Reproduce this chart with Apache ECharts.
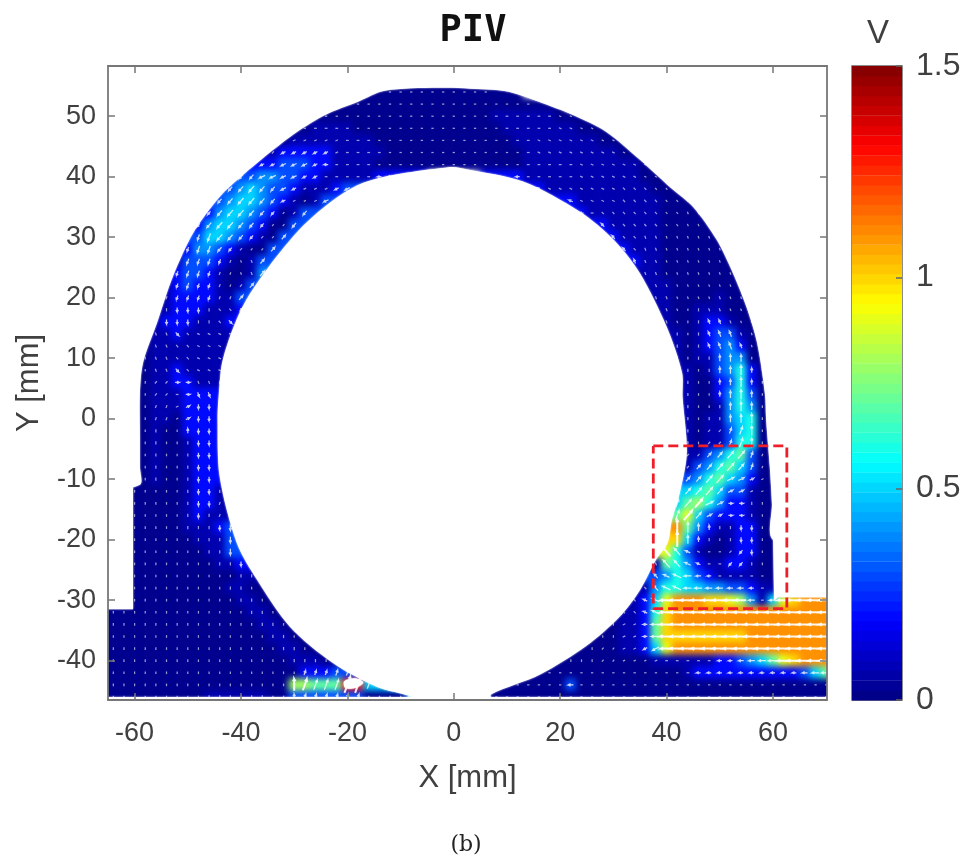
<!DOCTYPE html>
<html>
<head>
<meta charset="utf-8">
<style>
html,body{margin:0;padding:0;background:#fff}
#wrap{position:relative;width:968px;height:857px;overflow:hidden}
#plotClip{position:absolute;left:108px;top:66px;width:719px;height:634px;overflow:hidden}
#fieldLayer{position:absolute;left:-108px;top:-66px;width:968px;height:857px;filter:blur(3px)}
#top{position:absolute;left:0;top:0;width:968px;height:857px;filter:blur(0.45px)}
</style>
<script src="https://cdn.jsdelivr.net/npm/echarts@6/dist/echarts.min.js"></script>
</head>
<body>
<div id="wrap">
  <div id="plotClip"><div id="fieldLayer"></div></div>
  <div id="top"></div>
</div>
<script>
const xTicks = [-60,-40,-20,0,20,40,60];
const yTicks = [-40,-30,-20,-10,0,10,20,30,40,50];
const colorbarLevels = [0.012,0.035,0.059,0.082,0.105,0.129,0.152,0.176,0.199,0.223,0.246,0.270,0.293,0.316,0.340,0.363,0.387,0.410,0.434,0.457,0.480,0.504,0.527,0.551,0.574,0.598,0.621,0.645,0.668,0.691,0.715,0.738,0.762,0.785,0.809,0.832,0.855,0.879,0.902,0.926,0.949,0.973,0.996,1.020,1.043,1.066,1.090,1.113,1.137,1.160,1.184,1.207,1.230,1.254,1.277,1.301,1.324,1.348,1.371,1.395,1.418,1.441,1.465,1.488];
const jet = ['#000080','#0000ff','#0080ff','#00ffff','#80ff80','#ffff00','#ff8000','#ff0000','#800000'];
const dashedBoxX = [37.5,62.6,62.6,37.5,37.5];
const dashedBoxY = [-4.5,-4.5,-31.4,-31.4,-4.5];
// Digit scale of the speed table: digit 0 = 0.02, 1 = 0.07, then digit x 0.1.
const lowLevels = [0.02, 0.07];

// Measured edge of the seeded region, in mm.
const outerArc = [[70.3,-20],[60,-20],[59.8,-14],[59.4,-8],[58.7,0],[58.5,4],[57,12.6],[55,18.5],[52.5,24],[49.4,29.6],[45,35],[41,38],[35,42.8],[28.7,47.4],[22.4,50.2],[16,52.4],[10.5,54],[6.4,54.4],[-3,54.7],[-13,54.2],[-18,52.4],[-24,50.3],[-29.5,47.4],[-34,44.4],[-40,40],[-44,36.7],[-49,30.7],[-52.8,23.5],[-55.8,15.8],[-58.4,9.3],[-59,4.3],[-59,-3],[-59,-8],[-59,-10.9],[-65.3,-10.9],[-65.3,58.5],[70.3,58.5]];
const rightStep = [[70.3,-29.5],[61,-29.5],[60.2,-30],[60,-19],[70.3,-19]];
const leftStep = [[-65.3,-10],[-60.3,-10],[-60.3,-31.5],[-65.3,-31.5]];
const innerEdge = [[-7.7,-46],[-14.5,-44.3],[-22.7,-40.4],[-30.8,-34.4],[-37,-26.6],[-40.8,-20.5],[-44,-9.6],[-44.4,0],[-44.2,3.6],[-43.4,9.8],[-39.7,18.5],[-33.3,26.8],[-26.5,33.4],[-17,39],[-0.7,41.6],[2.6,41.2],[13,39.2],[23.7,34.2],[30,29.6],[35,24],[40,15.2],[42.9,7.6],[43,3.6],[43.8,-5.6],[42.5,-12.2],[41,-16.7],[40.2,-20.5],[38,-23.3],[35,-28.3],[31.2,-32.7],[25,-37.5],[16.2,-42.3],[7,-45.6],[7,-46.7],[-7.7,-46.7]];
const bottomStrip = [[-65.3,-46],[70.3,-46],[70.3,-46.7],[-65.3,-46.7]];
const whiteSpot = [[-20.6,-43.4],[-18.5,-42.9],[-17,-43.6],[-18.5,-44.5],[-20.4,-44.5]];
const maskPolygons = [outerArc, innerEdge, whiteSpot, rightStep, leftStep, bottomStrip];
const smoothedMasks = 3; // the first three are curved edges

// Speed, one hex digit per 2 mm cell.
// Each row: y, then pairs of first-cell x and the digits running right from it.
const levelRows = [
[56,-14,"00000000000000"],
[54,-12,"0000000000"],
[52,-18,"00000000000000000"],
[50,-24,"000000000000000011111100"],
[48,-28,"0111100000000000000111111100"],
[46,-32,"01111111100000000000001111111100"],
[44,-34,"12222211111000000000000011111111100"],
[42,-36,"2233322111100000000000000111111111110"],
[40,-40,"334433221111122",12,"21111111111100"],
[38,-42,"345433211123",16,"2111111111100"],
[36,-44,"34554321013",22,"211111111000"],
[34,-46,"2455432013",24,"211111110000"],
[32,-48,"2455432003",28,"2111110000"],
[30,-48,"355432103",30,"2111100000"],
[28,-50,"244321003",32,"2111000000"],
[26,-52,"133321013",34,"211000000"],
[24,-52,"233210014",36,"110000000"],
[22,-54,"123221013",38,"11000000"],
[20,-54,"12222113",38,"110000100"],
[18,-56,"112221112",40,"10011100"],
[16,-56,"12221112",40,"100122100"],
[14,-56,"11211111",42,"10123310"],
[12,-58,"01111111",42,"10123420"],
[10,-58,"01111111",42,"10113440"],
[8,-58,"01121111",44,"10134620"],
[6,-58,"01122111",44,"10023620"],
[4,-58,"0111222",44,"10024630"],
[2,-58,"0111222",44,"10014640"],
[0,-58,"0110222",44,"10114560"],
[-2,-58,"0100222",44,"10113560"],
[-4,-58,"0100122",44,"10113660"],
[-6,-58,"0100122",44,"11346730"],
[-8,-58,"0100122",44,"13467530"],
[-10,-58,"0100122",44,"34675420"],
[-12,-60,"000001221",44,"56753310"],
[-14,-60,"000001221",42,"578642210"],
[-16,-60,"000001211",42,"795322210"],
[-18,-60,"0000011123",42,"b74211220"],
[-20,-60,"0000001113",42,"a52101220"],
[-22,-60,"0000000113",40,"9631001220"],
[-24,-60,"00000000112",38,"17642112210"],
[-26,-60,"000000000011",38,"34653211110"],
[-28,-60,"000000000110",36,"146655443321"],
[-30,-60,"0000000000110",34,"1259bbbaa984159abbb"],
[-32,-64,"0000000000000110",32,"1126abbbbbbbbbbbbbbb"],
[-34,-64,"00000000000000110",30,"01127abbbbbbbbbbbbbbb"],
[-36,-64,"000000000000000110",28,"001127aaaaaaaabbbbbbbb"],
[-38,-64,"0000000000000000110",26,"00011259bbbbbbbbbbbbbbb"],
[-40,-64,"000000000000000001110",22,"000000001111112234579abbb"],
[-42,-64,"00000000000000000022233",18,"000000000000012222222222357"],
[-44,-64,"0000000000000000088777dd5",12,"000003000000000000000000000000"],
[-46,-64,"00000000011111100333333300004",8,"00000000000000000000000000000000"],
[-48,-64,"00000000011111100222222200004",8,"00000000000000000000000000000000"]
];

// Flow direction, one hex digit per 4 mm block, written as digit*run (digit x 22.5 deg, counter-clockwise from +X).
const directionRows = [
"8*34",
"9*9 8*12 7*13",
"a*8 9*3 8*9 7*5 6*9",
"a*7 9*3 8*12 7*4 6*8",
"a*8 9*4 8*8 7*4 6*3 5*7",
"a*10 8*13 6*4 5*7",
"b*5 a*2 2*2 6*16 5*9",
"b*6 d*1 2*1 5*26",
"b*6 2*1 5*27",
"c*5 e*1 2*1 5*20 4*1 5*6",
"d*3 e*1 f*2 4*22 5*6",
"c*2 d*1 e*1 f*2 4*28",
"4*2 2*1 0*1 d*1 c*1 4*21 c*1 4*6",
"4*2 3*1 1*1 c*2 4*21 c*1 4*6",
"4*4 c*2 4*21 c*1 2*1 3*1 4*4",
"4*4 c*1 b*1 4*21 2*3 3*1 4*3",
"4*4 c*2 4*21 2*2 1*2 4*3",
"c*5 b*1 4*20 3*1 2*1 1*1 0*1 c*1 4*3",
"c*6 4*20 4*3 c*2 8*3",
"c*7 5*18 5*1 6*1 7*1 8*1 a*1 c*1 8*3",
"c*25 6*1 7*1 8*7",
"c*24 6*1 7*1 8*8",
"c*24 9*1 8*9",
"c*23 a*1 9*2 8*8",
"4*9 3*5 8*20",
"4*9 3*5 8*20"
];

const expanded = directionRows.map(r => r.split(' ').map(g => g[0].repeat(+g.slice(2))).join(''));
const cells = [], arrows = [];
levelRows.forEach(row => {
  const y = row[0];
  for (let s = 1; s < row.length; s += 2) {
    const x0 = row[s], digits = row[s + 1];
    for (let i = 0; i < digits.length; i++) {
      const d = parseInt(digits[i], 16), x = x0 + 2 * i;
      const v = d < lowLevels.length ? lowLevels[d] : d * 0.1;
      cells.push([x, y, v, i === 0 ? 6 : 0, i === digits.length - 1 ? 6 : 0]);
      const dirCh = (expanded[Math.floor((55 - y) / 4)] || '')[Math.floor((x + 65) / 4)] || '0';
      arrows.push([x, y, v, parseInt(dirCh, 16) * 22.5]);
    }
  }
});

const frameColor = '#777';
const labelColor = '#404040';
const font = '"Liberation Sans", Arial, sans-serif';
const xRange = {min:-65, max:70.15};
const yRange = {min:-46.5, max:58.3};
const gridMain = {left:108, top:66, width:719, height:634};
const frameLine = {show:true, onZero:false, lineStyle:{color:frameColor, width:1.8}};
const tick = values => ({show:true, inside:true, length:7, customValues:values, lineStyle:{color:frameColor, width:1.5}});

// Bottom layer: the speed field alone, softened.
const fieldChart = echarts.init(document.getElementById('fieldLayer'), null, {renderer:'canvas'});
fieldChart.setOption({
  animation:false,
  backgroundColor:'transparent',
  grid:gridMain,
  xAxis:{type:'value', ...xRange, show:false},
  yAxis:{type:'value', ...yRange, show:false},
  visualMap:{show:false, type:'continuous', min:0, max:1.5, dimension:2, inRange:{color:jet}},
  series:[{type:'custom', name:'V', clip:false, progressive:0, silent:true, data:cells, encode:{x:0,y:1},
    renderItem(params, api){
      const x = api.value(0), y = api.value(1);
      const a = api.coord([x - 1 - api.value(3), y + 1]), b = api.coord([x + 1 + api.value(4), y - 1]);
      return {type:'rect', shape:{x:a[0]-0.3, y:a[1]-0.3, width:b[0]-a[0]+0.6, height:b[1]-a[1]+0.6}, style:{fill:api.visual('color')}};
    }}]
});

// Top layer: arrows, white masks, dashed box, axes, colour bar, text.
const chart = echarts.init(document.getElementById('top'), null, {renderer:'canvas'});
chart.setOption({
  animation:false,
  backgroundColor:'transparent',
  title:[
    {text:'PIV', left:468, top:8, textAlign:'center', textStyle:{fontFamily:'"DejaVu Sans Mono", monospace', fontWeight:'bold', fontSize:37, color:'#111'}},
    {text:'V', left:873, top:12, textAlign:'center', textStyle:{fontFamily:font, fontWeight:'normal', fontSize:33, color:labelColor}},
    {text:'(b)', left:461, top:829, textAlign:'center', textStyle:{fontFamily:'"DejaVu Serif", serif', fontWeight:'normal', fontSize:22, color:'#222'}}
  ],
  grid:[
    gridMain,
    {left:852, top:66, width:50, height:634, show:true, borderColor:'#666', borderWidth:1.5, backgroundColor:'transparent'}
  ],
  xAxis:[
    {type:'value', gridIndex:0, ...xRange, position:'bottom', z:10, splitLine:{show:false}, axisLine:frameLine,
     axisTick:tick(xTicks),
     axisLabel:{show:true, customValues:xTicks, fontFamily:font, fontSize:27, color:labelColor, margin:20, showMinLabel:true, showMaxLabel:true},
     name:'X [mm]', nameLocation:'middle', nameGap:63, nameTextStyle:{fontFamily:font, fontSize:31, color:labelColor}},
    {type:'value', gridIndex:0, ...xRange, position:'top', z:10, splitLine:{show:false}, axisLine:frameLine, axisTick:tick(xTicks), axisLabel:{show:false}},
    {type:'value', gridIndex:1, min:0, max:1, show:false}
  ],
  yAxis:[
    {type:'value', gridIndex:0, ...yRange, position:'left', z:10, splitLine:{show:false}, axisLine:frameLine,
     axisTick:tick(yTicks),
     axisLabel:{show:true, customValues:yTicks, fontFamily:font, fontSize:27, color:labelColor, margin:12},
     name:'Y [mm]', nameLocation:'middle', nameGap:63, nameRotate:90, nameTextStyle:{fontFamily:font, fontSize:31, color:labelColor}},
    {type:'value', gridIndex:0, ...yRange, position:'right', z:10, splitLine:{show:false}, axisLine:frameLine, axisTick:tick(yTicks), axisLabel:{show:false}},
    {type:'value', gridIndex:1, min:0, max:1.5, interval:0.5, position:'right', z:10, splitLine:{show:false}, axisLine:{show:false, onZero:false},
     axisTick:{show:true, inside:true, length:6, lineStyle:{color:'#666', width:1.5}},
     axisLabel:{show:true, fontFamily:font, fontSize:32, color:labelColor, margin:14, showMinLabel:true, showMaxLabel:true, formatter:v => String(v)}}
  ],
  visualMap:{show:false, type:'continuous', min:0, max:1.5, dimension:2, seriesIndex:[3], inRange:{color:jet}},
  series:[
    {type:'custom', name:'arrows', xAxisIndex:0, yAxisIndex:0, clip:true, z:3, progressive:0, silent:true,
     data:arrows, encode:{x:0,y:1},
     renderItem(params, api){
       const x = api.value(0), y = api.value(1), v = api.value(2), ang = api.value(3) * Math.PI / 180;
       const len = 0.4 + 1.9 * v;
       const cs = Math.cos(ang), sn = Math.sin(ang);
       const t = api.coord([x - cs*len/2, y - sn*len/2]), h = api.coord([x + cs*len/2, y + sn*len/2]);
       const pts = [t, h];
       if (v >= 0.15) {
         const pa = Math.atan2(h[1]-t[1], h[0]-t[0]), s = 2.6;
         pts.push([h[0]-s*Math.cos(pa-0.5), h[1]-s*Math.sin(pa-0.5)], h, [h[0]-s*Math.cos(pa+0.5), h[1]-s*Math.sin(pa+0.5)]);
       }
       const strong = v >= 0.8, faint = v < 0.15;
       return {type:'polyline', shape:{points:pts},
               style:{fill:null, stroke:faint ? 'rgba(255,255,255,0.6)' : strong ? 'rgba(255,255,255,0.9)' : 'rgba(255,255,255,0.78)', lineWidth:strong ? 2 : 1.25}};
     }},
    {type:'custom', name:'mask', xAxisIndex:0, yAxisIndex:0, clip:true, z:4, silent:true,
     data:maskPolygons.map((p,i) => [i]),
     renderItem(params, api){
       const i = api.value(0);
       return {type:'polygon', shape:{points:maskPolygons[i].map(p => api.coord(p)), smooth:i < smoothedMasks ? 0.3 : 0},
               style:{fill:'#fff', shadowBlur:2, shadowColor:'#fff'}};
     }},
    {type:'line', name:'box', xAxisIndex:0, yAxisIndex:0, z:5, symbol:'none', silent:true,
     data:dashedBoxX.map((x,i) => [x, dashedBoxY[i]]),
     lineStyle:{color:'#f01e28', width:2.8, type:[10,5]}},
    {type:'custom', name:'colorbar', xAxisIndex:2, yAxisIndex:2, z:2, silent:true,
     data:colorbarLevels.map(l => [0, l, l]), encode:{x:0,y:1},
     renderItem(params, api){
       const l = api.value(1), half = 1.5 / colorbarLevels.length / 2;
       const a = api.coord([0, l+half]), b = api.coord([1, l-half]);
       return {type:'rect', shape:{x:a[0], y:a[1], width:b[0]-a[0], height:b[1]-a[1]+0.5}, style:{fill:api.visual('color')}};
     }}
  ]
});
</script>
</body>
</html>
